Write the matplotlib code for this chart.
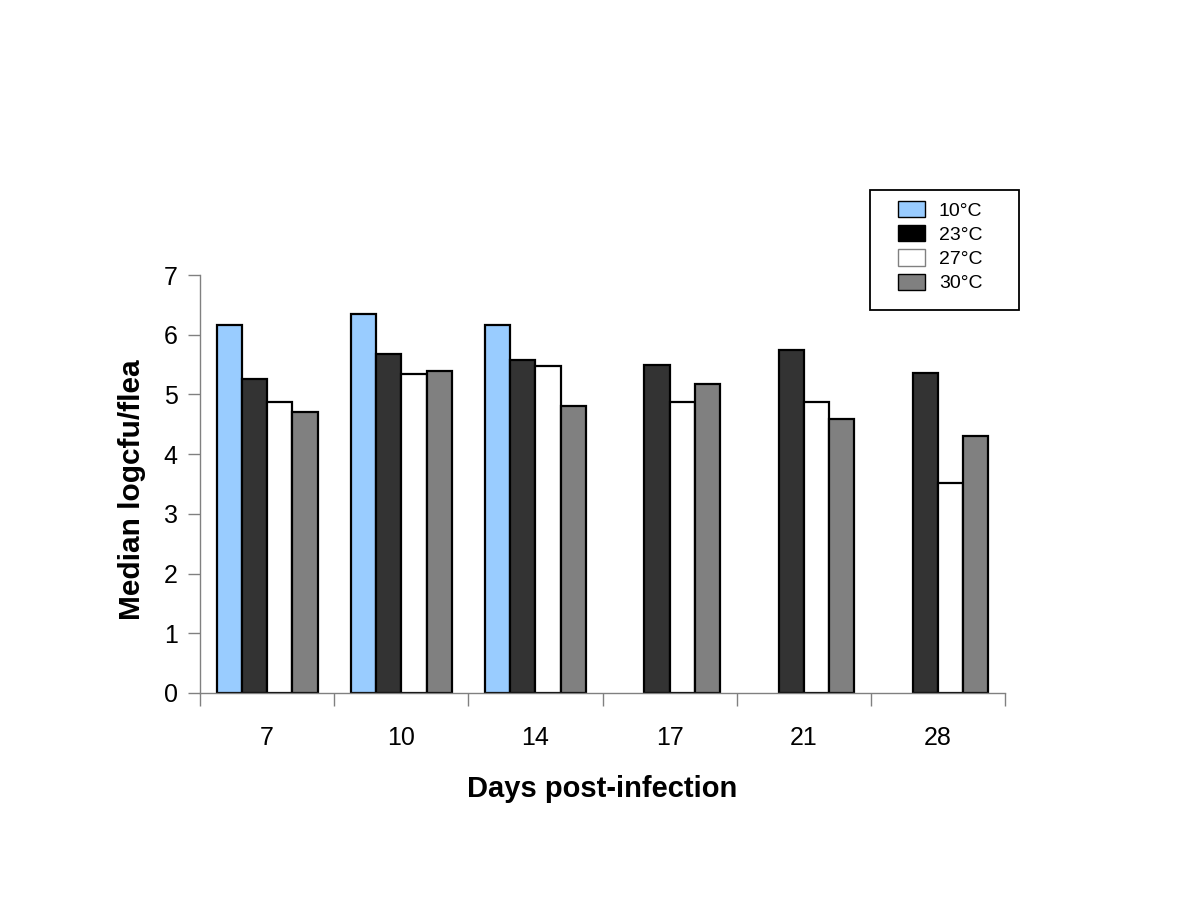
import matplotlib.pyplot as plt
from matplotlib.patches import Patch, Rectangle
import numpy as np

plt.rcParams['font.family'] = ['Liberation Sans', 'DejaVu Sans']

days = ['7', '10', '14', '17', '21', '28']
temps = ['10°C', '23°C', '27°C', '30°C']
# 10°C only measured up to day 14
t10 = [6.16, 6.34, 6.16, np.nan, np.nan, np.nan]
t23 = [5.26, 5.67, 5.57, 5.50, 5.75, 5.36]
t27 = [4.87, 5.35, 5.47, 4.87, 4.87, 3.52]
t30 = [4.70, 5.40, 4.81, 5.18, 4.59, 4.31]
colors = ['#99CCFF', '#333333', '#FFFFFF', '#808080']
legend_colors = ['#99CCFF', '#000000', '#FFFFFF', '#808080']

fig = plt.figure(figsize=(12, 9), dpi=100)
ax = fig.add_axes([0.1667, 0.23, 0.6708, 0.4644])

x = np.arange(len(days))
w = 0.188
for i, (vals, c, lab) in enumerate(zip([t10, t23, t27, t30], colors, temps)):
    ax.bar(x + (i - 1.5) * w, vals, w, color=c, edgecolor='black',
           linewidth=1.6, label=lab)

ax.set_xlim(-0.5, len(days) - 0.5)
ax.set_ylim(0, 7)
ax.set_yticks(range(8))
ax.set_xticks(x)
ax.set_xticklabels(days)
ax.set_xticks(np.arange(-0.5, len(days)), minor=True)
ax.tick_params(axis='x', which='major', length=0, labelsize=18, pad=24)
ax.tick_params(axis='x', which='minor', length=9, color='#808080', width=1)
ax.tick_params(axis='y', length=9, color='#808080', width=1, labelsize=18, pad=7)
for s in ['top', 'right']:
    ax.spines[s].set_visible(False)
for s in ['left', 'bottom']:
    ax.spines[s].set_color('#808080')
    ax.spines[s].set_linewidth(1)

ax.set_xlabel('Days post-infection', fontsize=21, fontweight='bold', labelpad=18)
ax.set_ylabel('Median logcfu/flea', fontsize=21.5, fontweight='bold', labelpad=13)
ax.yaxis.label.set_y(0.486)

# legend with its own frame (wider padding than matplotlib's)
handles = [Patch(facecolor=c, edgecolor='#808080' if c == '#FFFFFF' else 'black',
                 linewidth=1) for c in legend_colors]
fig.legend(handles, temps, loc='upper left', bbox_to_anchor=(898 / 1200, 1 - 201 / 900),
           fontsize=14, frameon=False, handlelength=1.4, handleheight=0.9,
           labelspacing=0.28, handletextpad=0.7, borderpad=0, borderaxespad=0)
fig.patches.append(Rectangle((870 / 1200, 1 - 310 / 900), 149 / 1200, 120 / 900,
                             transform=fig.transFigure, fill=False,
                             edgecolor='black', linewidth=1.3))

fig.savefig('out.png', dpi=100)
